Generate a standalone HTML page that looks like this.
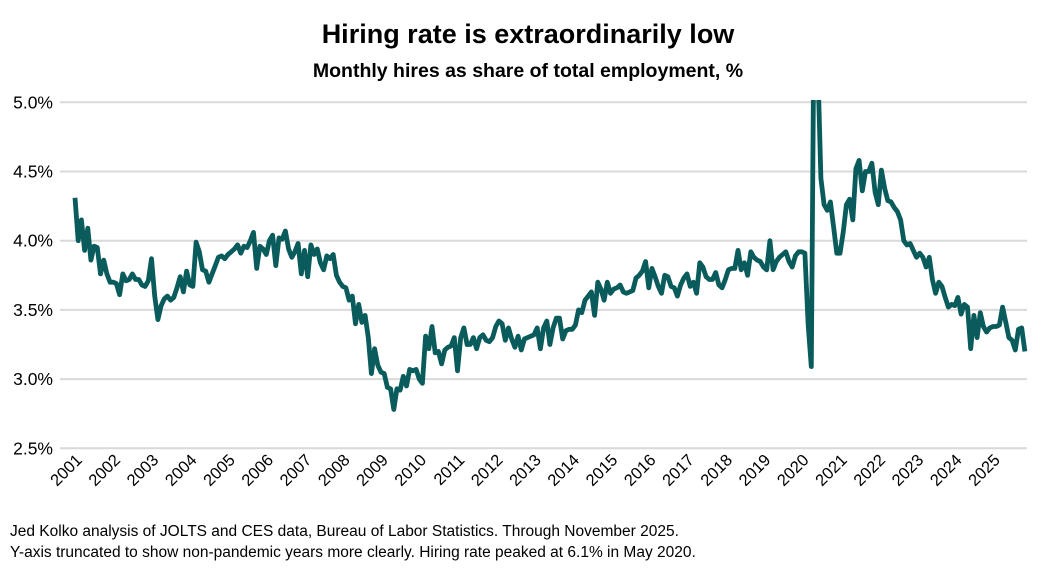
<!DOCTYPE html>
<html><head><meta charset="utf-8"><style>
html,body{margin:0;padding:0;background:#fff;}
body{width:1057px;height:577px;overflow:hidden;font-family:"Liberation Sans",sans-serif;}
</style></head><body>
<svg id="chart" width="1057" height="577" viewBox="0 0 1057 577" xmlns="http://www.w3.org/2000/svg">
<rect width="1057" height="577" fill="#fff"/>
<text x="528" y="43" text-anchor="middle" font-size="27" font-weight="bold" fill="#000">Hiring rate is extraordinarily low</text>
<text x="528" y="77" text-anchor="middle" font-size="19.5" font-weight="bold" fill="#000">Monthly hires as share of total employment, %</text>
<g id="grid"></g><g id="yt"></g><g id="xt"></g>
<defs><clipPath id="pc"><rect x="55" y="100" width="990" height="360"/></clipPath></defs>
<g clip-path="url(#pc)"><path id="line" fill="none" stroke="#0a5c5c" stroke-width="4.8" stroke-linejoin="round"/></g>
<text x="10" y="536" font-size="15.5" fill="#000">Jed Kolko analysis of JOLTS and CES data, Bureau of Labor Statistics.  Through November 2025.</text>
<text x="10" y="557" font-size="15.5" fill="#000">Y-axis truncated to show non-pandemic years more clearly. Hiring rate peaked at 6.1% in May 2020.</text>
</svg>
<script>
const startYear = 2001;
const yTicks = [2.5, 3.0, 3.5, 4.0, 4.5, 5.0];
const yTickLabels = ["2.5%", "3.0%", "3.5%", "4.0%", "4.5%", "5.0%"];
const yearLabels = ["2001","2002","2003","2004","2005","2006","2007","2008","2009","2010","2011","2012","2013","2014","2015","2016","2017","2018","2019","2020","2021","2022","2023","2024","2025"];
const hiresRate = [
4.31,4.00,4.15,3.93,4.09,3.86,3.96,3.95,3.76,3.86,3.76,3.70,
3.70,3.69,3.61,3.76,3.71,3.72,3.76,3.72,3.72,3.68,3.67,3.71,
3.87,3.60,3.43,3.53,3.58,3.60,3.57,3.59,3.66,3.74,3.63,3.78,
3.68,3.67,3.99,3.92,3.79,3.78,3.70,3.76,3.82,3.88,3.89,3.87,
3.90,3.92,3.94,3.97,3.91,3.96,3.95,4.00,4.06,3.80,3.96,3.94,
3.90,4.00,4.04,3.82,4.02,4.01,4.07,3.94,3.88,3.92,3.98,3.76,
3.93,3.74,3.97,3.90,3.94,3.84,3.79,3.89,3.87,3.90,3.75,3.70,
3.67,3.66,3.57,3.60,3.40,3.54,3.41,3.46,3.30,3.04,3.22,3.10,
3.05,3.04,2.94,2.93,2.78,2.93,2.92,3.02,2.95,3.07,3.06,3.07,
3.00,2.97,3.31,3.22,3.38,3.19,3.20,3.11,3.21,3.23,3.24,3.30,
3.06,3.30,3.37,3.25,3.25,3.30,3.22,3.30,3.32,3.28,3.27,3.30,
3.38,3.42,3.40,3.28,3.37,3.29,3.23,3.31,3.21,3.29,3.30,3.31,
3.32,3.37,3.22,3.37,3.42,3.25,3.37,3.44,3.44,3.29,3.35,3.36,
3.36,3.39,3.50,3.48,3.57,3.60,3.63,3.46,3.70,3.65,3.57,3.70,
3.62,3.65,3.66,3.68,3.63,3.62,3.63,3.64,3.73,3.75,3.78,3.85,
3.66,3.80,3.74,3.67,3.62,3.75,3.74,3.67,3.66,3.60,3.68,3.73,
3.76,3.67,3.70,3.62,3.84,3.81,3.74,3.72,3.72,3.77,3.68,3.66,
3.72,3.79,3.80,3.80,3.93,3.79,3.84,3.75,3.92,3.88,3.86,3.85,
3.81,3.79,4.00,3.79,3.85,3.88,3.90,3.92,3.85,3.81,3.89,3.92,
3.92,3.91,3.40,3.09,6.10,5.30,4.45,4.26,4.22,4.28,4.10,3.91,
3.91,4.06,4.26,4.30,4.15,4.52,4.58,4.36,4.50,4.50,4.56,4.35,
4.26,4.51,4.38,4.29,4.28,4.24,4.21,4.15,4.00,3.97,3.98,3.93,
3.88,3.91,3.88,3.81,3.88,3.72,3.62,3.70,3.67,3.59,3.52,3.54,
3.53,3.59,3.47,3.54,3.52,3.22,3.46,3.30,3.48,3.38,3.34,3.37,
3.38,3.38,3.39,3.52,3.41,3.30,3.28,3.21,3.36,3.37,3.20
];
const NS="http://www.w3.org/2000/svg";
function yS(v){return 102.3+(5.0-v)*138.4;}
function xS(i){return 75+i*(38.25/12);}
const grid=document.getElementById('grid'), yt=document.getElementById('yt'), xt=document.getElementById('xt');
yTicks.forEach((t,k)=>{
  const l=document.createElementNS(NS,'line');
  l.setAttribute('x1',60);l.setAttribute('x2',1027);l.setAttribute('y1',yS(t));l.setAttribute('y2',yS(t));
  l.setAttribute('stroke','#d9d9d9');l.setAttribute('stroke-width','2');
  
  
  grid.appendChild(l);
  const tx=document.createElementNS(NS,'text');
  tx.setAttribute('x',53);tx.setAttribute('y',yS(t)+6);tx.setAttribute('text-anchor','end');
  tx.setAttribute('font-size','17.5');tx.textContent=yTickLabels[k];
  
  
  yt.appendChild(tx);
});
yearLabels.forEach((y,k)=>{
  const x=xS(k*12)+8, yy=461;
  const tx=document.createElementNS(NS,'text');
  tx.setAttribute('x',x);tx.setAttribute('y',yy);tx.setAttribute('text-anchor','end');
  tx.setAttribute('font-size','16.5');
  tx.setAttribute('transform','rotate(-45 '+x+' '+yy+')');
  tx.textContent=y;
  
  
  xt.appendChild(tx);
});
document.getElementById('line').setAttribute('d',hiresRate.map((v,i)=>(i?'L':'M')+xS(i).toFixed(1)+' '+yS(v).toFixed(1)).join(' '));
</script>
</body></html>
